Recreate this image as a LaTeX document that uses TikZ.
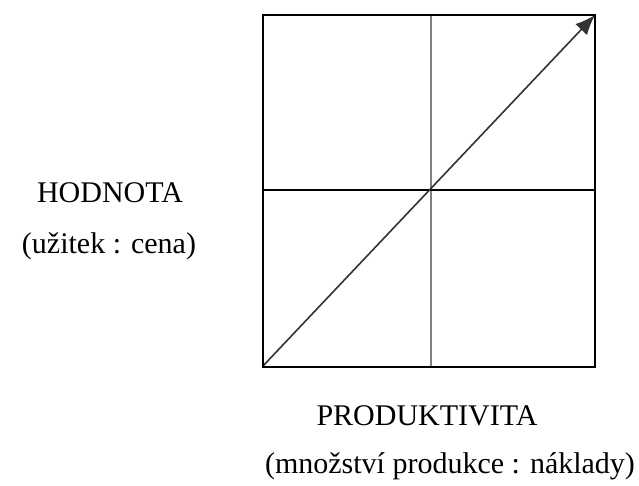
\documentclass[tikz,border=0pt]{standalone}
\usepackage{fontspec}
\setmainfont{Liberation Serif}
\newfontfamily\tmsfont{Liberation Serif}
\usetikzlibrary{arrows.meta}
\begin{document}
\begin{tikzpicture}[x=1pt,y=-1pt,
  lbl/.style={anchor=base,inner sep=0pt,font=\tmsfont\fontsize{30}{36}\selectfont},
  frame/.style={draw=black,line width=2pt},
  divider/.style={line width=2pt},
  diag/.style={draw=black!80,line width=1.6pt,-{Latex[length=20pt,width=16pt]}}]
\useasboundingbox (0,0) rectangle (639,486);
\coordinate (bl) at (262.5,366.5);
\coordinate (tr) at (595,15);
\coordinate (vt) at (430.5,15);
\coordinate (vb) at (430.5,366.5);
\coordinate (hl) at (262.5,190);
\coordinate (hr) at (595,190);
\draw[divider,draw=black!50] (vt) -- (vb);
\draw[divider,draw=black] (hl) -- (hr);
\draw[diag] (bl) -- (tr);
\draw[frame] (bl) rectangle (tr);
\node[lbl] (hod) at (110,203) {HODNOTA};
\node[lbl] (uz) at (109,253) {(užitek : cena)};
\node[lbl] (prod) at (427,425) {PRODUKTIVITA};
\node[lbl] (mn) at (450,473) {(množství produkce : náklady)};
\end{tikzpicture}
\end{document}
